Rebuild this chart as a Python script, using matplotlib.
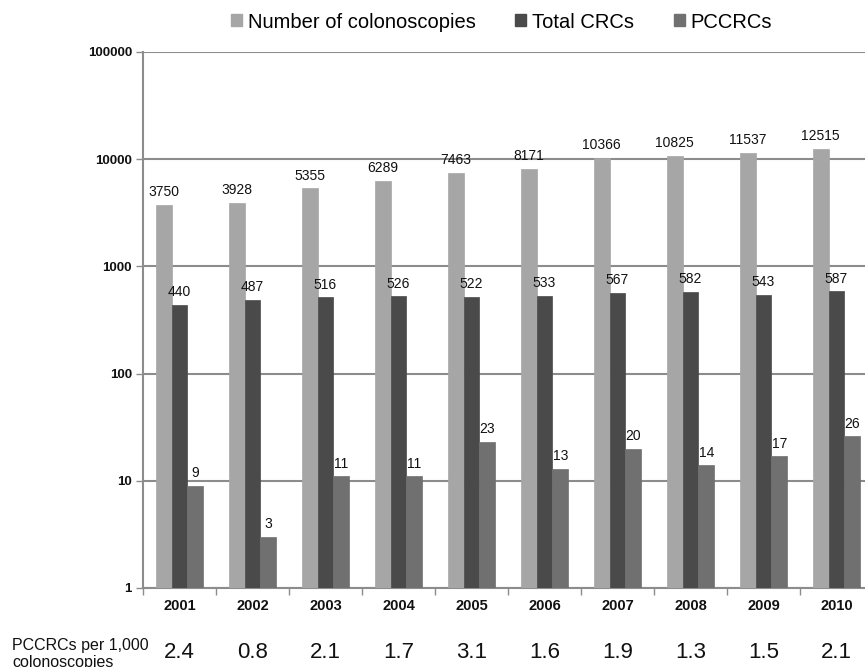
import matplotlib
matplotlib.use("Agg")
import matplotlib.pyplot as plt
import matplotlib.transforms as mtransforms
from matplotlib.patches import Patch
import numpy as np

plt.rcParams['font.family'] = ['Liberation Sans', 'DejaVu Sans']

years = ["2001", "2002", "2003", "2004", "2005", "2006", "2007", "2008", "2009", "2010"]
colonoscopies = [3750, 3928, 5355, 6289, 7463, 8171, 10366, 10825, 11537, 12515]
total_crcs = [440, 487, 516, 526, 522, 533, 567, 582, 543, 587]
pccrcs = [9, 3, 11, 11, 23, 13, 20, 14, 17, 26]
rate_per_1000 = ["2.4", "0.8", "2.1", "1.7", "3.1", "1.6", "1.9", "1.3", "1.5", "2.1"]
series_names = ["Number of colonoscopies", "Total CRCs", "PCCRCs"]
ytick_vals = [1, 10, 100, 1000, 10000, 100000]

colors = ["#a6a6a6", "#4a4a4a", "#707070"]
grid_c = "#8c8c8c"

W, H = 865, 667
fig = plt.figure(figsize=(W / 100, H / 100), dpi=100)
ax = fig.add_axes([143 / W, 1 - 588 / H, 730 / W, 536 / H])

x = np.arange(len(years))
bw = 0.215
series = [colonoscopies, total_crcs, pccrcs]
for k, (vals, c) in enumerate(zip(series, colors)):
    xs = x + (k - 1) * bw
    ax.bar(xs, vals, width=bw, color=c, edgecolor=c, linewidth=0.5,
           zorder=3, label=series_names[k])
    for xi, v in zip(xs, vals):
        ax.annotate(str(v), (xi, v), xytext=(0, 4), textcoords="offset points",
                    ha="center", va="bottom", fontsize=10, color="#111111",
                    zorder=4, annotation_clip=False)

ax.set_yscale("log")
ax.set_ylim(1, 100000)
ax.set_xlim(-0.5, len(years) - 0.5)
ax.yaxis.set_major_locator(matplotlib.ticker.FixedLocator(ytick_vals))
ax.yaxis.set_minor_locator(matplotlib.ticker.NullLocator())
ax.set_yticklabels([str(v) for v in ytick_vals], fontsize=9.5, fontweight="bold",
                   color="#111111")
ax.yaxis.grid(True, color=grid_c, linewidth=1.5, zorder=0)
ax.set_axisbelow(True)

ax.set_xticks(x)
ax.set_xticklabels(years, fontsize=10.5, fontweight="bold", color="#111111")
ax.set_xticks(np.arange(-0.5, len(years) + 0.5, 1), minor=True)
ax.tick_params(axis="x", which="major", length=0, pad=8)
ax.tick_params(axis="x", which="minor", length=5, color=grid_c, width=1)
ax.tick_params(axis="y", which="major", length=5, color=grid_c, width=1, pad=3)

for s in ["top", "right"]:
    ax.spines[s].set_visible(False)
for s in ["left", "bottom"]:
    ax.spines[s].set_color(grid_c)
    ax.spines[s].set_linewidth(1.5)

# legend
handles = [Patch(facecolor=c, edgecolor=c) for c in colors]
fig.legend(handles, series_names, loc="center left",
           bbox_to_anchor=(231 / W, 1 - 22 / H), ncol=3, frameon=False,
           fontsize=14.5, handlelength=0.55, handleheight=0.55,
           handletextpad=0.3, columnspacing=1.95, borderpad=0, borderaxespad=0)

# bottom row
fig.text(12 / W, 1 - 638 / H, "PCCRCs per 1,000\ncolonoscopies", fontsize=11.5,
         ha="left", va="top", linespacing=1.2, color="#111111")
trans = mtransforms.blended_transform_factory(ax.transData, fig.transFigure)
for xi, r in zip(x, rate_per_1000):
    ax.text(xi, 1 - 652 / H, r, transform=trans, ha="center", va="center",
            fontsize=16, color="#111111", clip_on=False)

fig.savefig("out.png", dpi=100)
